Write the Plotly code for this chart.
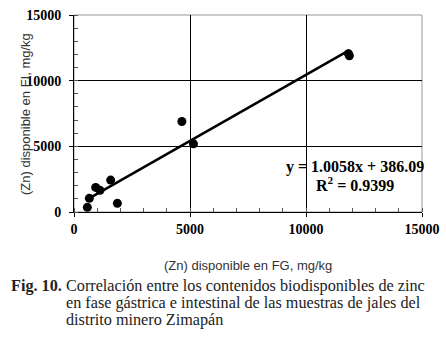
import plotly.graph_objects as go

# Data
fg_x = [575, 660, 935, 1120, 1580, 1870, 4650, 5150, 11830, 11870]
fi_y = [355, 1040, 1870, 1650, 2430, 660, 6890, 5190, 12050, 11900]
slope = 1.0058
intercept = 386.09
axis_ticks = [0, 5000, 10000, 15000]
axis_ticklabels = ["0", "5000", "10000", "15000"]

W, H = 446, 343
L, R, T, B = 74, 24, 15, 131
pw, ph = W - L - R, H - T - B

def px(x):
    return (x - L) / pw

def py(y):
    return (T + ph - y) / ph

x_min, x_max = min(fg_x), max(fg_x)
trend_x = [x_min, x_max]
trend_y = [slope * v + intercept for v in trend_x]

fig = go.Figure()
fig.add_trace(go.Scatter(x=trend_x, y=trend_y, mode="lines",
                         line=dict(color="black", width=2.5), hoverinfo="skip"))
fig.add_trace(go.Scatter(x=fg_x, y=fi_y, mode="markers",
                         marker=dict(color="black", size=9)))

tickfont = dict(family="Liberation Serif", size=14, color="black")
bold_labels = ["<b>%s</b>" % t for t in axis_ticklabels]
axis_common = dict(
    range=[0, 15000], tickvals=axis_ticks, ticktext=bold_labels,
    showgrid=True, gridcolor="black", gridwidth=1, zeroline=False,
    showline=True, linecolor="black", linewidth=1,
    ticks="outside", ticklen=4, tickcolor="black",
    minor=dict(dtick=1000, ticks="inside", ticklen=4, tickcolor="#555", showgrid=False),
    automargin=False, tickfont=tickfont,
)

fig.update_layout(
    width=W, height=H, showlegend=False,
    margin=dict(l=L, r=R, t=T, b=B),
    paper_bgcolor="white", plot_bgcolor="white",
    font=dict(family="Liberation Sans", color="#333"),
    xaxis=dict(**axis_common),
    yaxis=dict(**axis_common, ticklabelstandoff=5),
    shapes=[dict(type="rect", xref="paper", yref="paper", x0=0, y0=0, x1=1, y1=1,
                 line=dict(color="#999", width=1), layer="below")],
)

def note(x, y, text, font, xanchor="center", **kw):
    fig.add_annotation(xref="paper", yref="paper", x=px(x), y=py(y),
                       xanchor=xanchor, yanchor="middle", text=text,
                       showarrow=False, font=font, **kw)

title_font = dict(family="Liberation Sans", size=13, color="#333")
note(248, 265, "(Zn) disponible en FG, mg/kg", title_font)
note(25, 114, "(Zn) disponible en FI, mg/kg", title_font, textangle=-90)

ann_font = dict(family="Liberation Serif", size=16, color="black")
note(355, 167, "<b>y = 1.0058x + 386.09</b>", ann_font)
note(355, 184, "<b>R<sup>2</sup> = 0.9399</b>", ann_font)

cap_font = dict(family="Liberation Serif", size=16.2, color="#222")
note(9, 286, "<b>Fig. 10.</b>", cap_font, xanchor="left")
caption_lines = [
    "Correlación entre los contenidos biodisponibles de zinc",
    "en fase gástrica e intestinal de las muestras de jales del",
    "distrito minero Zimapán",
]
for i, line in enumerate(caption_lines):
    note(64, 286 + 17 * i, line, cap_font, xanchor="left")

fig.write_html("out.html", config={"displayModeBar": False},
               post_script="document.body.style.margin='0';")
